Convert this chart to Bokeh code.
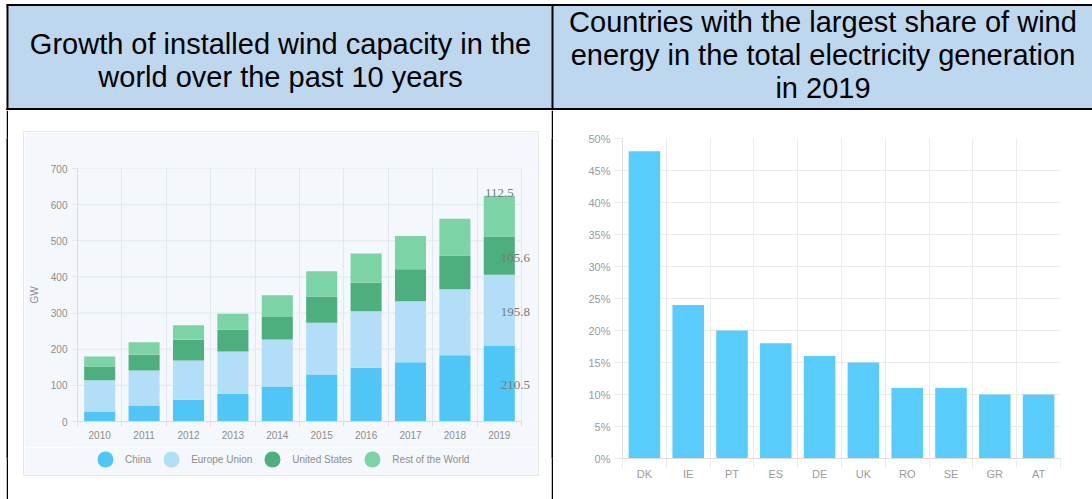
import numpy as np
from bokeh.plotting import figure
from bokeh.models import (Range1d, FixedTicker, LinearAxis, Legend, LegendItem,
                          Spacer, ColumnDataSource, PrintfTickFormatter, Grid)
from bokeh.layouts import row, column
from bokeh.embed import file_html
from bokeh.resources import INLINE
from bokeh.core.properties import value

# ---------------- data ----------------
years = ["2010", "2011", "2012", "2013", "2014", "2015", "2016", "2017", "2018", "2019"]
china = [28, 44, 60, 77, 97, 130, 149, 164, 183, 210.5]
europe = [86, 97, 109, 117, 130, 143, 156, 169, 183, 195.8]
united_states = [38, 44, 57, 60, 62, 73, 79, 88, 93, 105.6]
rest_world = [28, 34, 40, 44, 60, 70, 81, 92, 102, 112.5]
series_names = ["China", "Europe Union", "United States", "Rest of the World"]
gw_ticks = [0, 100, 200, 300, 400, 500, 600, 700]

countries = ["DK", "IE", "PT", "ES", "DE", "UK", "RO", "SE", "GR", "AT"]
wind_share = [48, 24, 20, 18, 16, 15, 11, 11, 10, 10]
share_ticks = [0, 5, 10, 15, 20, 25, 30, 35, 40, 45, 50]

header_left = ["Growth of installed wind capacity in the",
               "world over the past 10 years"]
header_right = ["Countries with the largest share of wind",
                "energy in the total electricity generation",
                "in 2019"]

# ---------------- styles ----------------
SERIES_COLORS = ["#4FC6F6", "#B3DEF7", "#4DAE7E", "#7CD4A6"]
BAR_COLOR = "#58CDFB"
HEADER_BG = "#BDD7EE"
PANEL = "#F4F8FC"
GRID_L = "#E2E8EF"
GRID_R = "#EBEBEB"
LABEL_L = "#8C8C8C"
LABEL_R = "#9A9A9A"
SANS = "Liberation Sans"


def blank(width, height, **kw):
    return figure(width=width, height=height, toolbar_location=None,
                  output_backend="svg", min_border=0, outline_line_color=None,
                  x_axis_type=None, y_axis_type=None, **kw)


# ---------------- header row (table) ----------------
hdr = blank(1092, 110, x_range=Range1d(0, 1092), y_range=Range1d(110, 0))
hdr.quad(left=[8], right=[1092], top=[5], bottom=[108],
         fill_color=HEADER_BG, line_color=None)
hdr.segment(x0=[6, 7, 552, 6], y0=[4.5, 4, 4, 108.5],
            x1=[1092, 7, 552, 1092], y1=[4.5, 110, 110, 108.5],
            line_color="black", line_width=2)
hdr.text(x=[280] * len(header_left), y=[43.5, 76.5], text=header_left,
         text_font=value(SANS), text_font_size="29px", text_color="black",
         text_align="center", text_baseline="alphabetic")
hdr.text(x=[822.5] * len(header_right), y=[21, 54, 87], text=header_right,
         text_font=value(SANS), text_font_size="29px", text_color="black",
         text_align="center", text_baseline="alphabetic")

# ---------------- left chart: stacked bars ----------------
n = len(years)
xs = [i + 0.5 for i in range(n)]
src = ColumnDataSource(dict(x=xs, China=china, Europe=europe,
                            US=united_states, Rest=rest_world))
# frame is widened a little on the right so the value labels are not clipped
x_end = n + 14 / 44.4
lc = figure(width=514, height=315, x_range=Range1d(0, x_end), y_range=Range1d(0, 700),
            toolbar_location=None, output_backend="svg",
            x_axis_type=None, y_axis_type=None,
            min_border_left=53, min_border_right=3, min_border_top=36,
            min_border_bottom=26, background_fill_color=PANEL,
            border_fill_color=PANEL, outline_line_color=None)
lc.vbar_stack(["China", "Europe", "US", "Rest"], x="x", width=0.7,
              color=SERIES_COLORS, line_color=None, source=src)

yax = LinearAxis(ticker=FixedTicker(ticks=gw_ticks), axis_label="GW",
                 axis_label_text_font=SANS, axis_label_text_font_size="10px",
                 axis_label_text_font_style="normal", axis_label_text_color=LABEL_L,
                 axis_label_standoff=8,
                 major_label_text_font=SANS, major_label_text_font_size="10px",
                 major_label_text_color=LABEL_L, major_label_standoff=4,
                 major_tick_out=6, major_tick_in=0, major_tick_line_color=GRID_L,
                 minor_tick_line_color=None, axis_line_color="#D5DCE4")
lc.add_layout(yax, "left")
xax_t = LinearAxis(ticker=FixedTicker(ticks=list(range(n + 1))), bounds=(0, n),
                   major_label_overrides={i: "" for i in range(n + 1)},
                   major_tick_out=5, major_tick_in=0, major_tick_line_color="#EBD9DC",
                   major_label_standoff=0, minor_tick_line_color=None,
                   axis_line_color="#D5DCE4")
lc.add_layout(xax_t, "below")
xax_l = LinearAxis(ticker=FixedTicker(ticks=xs),
                   major_label_overrides={x: y for x, y in zip(xs, years)},
                   major_label_text_font=SANS, major_label_text_font_size="10px",
                   major_label_text_color=LABEL_L, major_label_standoff=-2,
                   major_tick_line_color=None, minor_tick_line_color=None,
                   axis_line_color=None)
lc.add_layout(xax_l, "below")
lc.add_layout(Grid(dimension=0, ticker=FixedTicker(ticks=list(range(n + 1))),
                   grid_line_color=GRID_L))
# horizontal grid lines, limited to the category span
lc.segment(x0=[0] * len(gw_ticks), x1=[n] * len(gw_ticks), y0=gw_ticks, y1=gw_ticks,
           line_color=GRID_L, line_width=1, level="underlay")

# value labels on the last bar
last_vals = [china[-1], europe[-1], united_states[-1], rest_world[-1]]
cum = np.cumsum(last_vals)
mids = cum - np.array(last_vals) / 2
lc.text(x=[xs[-1]] * 3, y=list(mids[:3]), text=[f"{v:.1f}" for v in last_vals[:3]],
        x_offset=16, y_offset=2, text_font=value("Liberation Serif"),
        text_font_size="13px", text_color="#7A7A7A", text_align="center",
        text_baseline="middle")
lc.text(x=[xs[-1]], y=[cum[-1]], text=[f"{last_vals[-1]:.1f}"],
        y_offset=1, text_font=value("Liberation Serif"),
        text_font_size="13px", text_color="#7A7A7A", text_align="center",
        text_baseline="bottom")

# legend strip of the left panel (circle markers; NaN points are never drawn)
leg = blank(514, 28, x_range=Range1d(0, 1), y_range=Range1d(0, 1),
            background_fill_color=PANEL, border_fill_color=PANEL)
dots = [leg.scatter(x=[float("nan")], y=[float("nan")], marker="circle", size=16,
                    color=c, line_color=None)
        for c in SERIES_COLORS]
legend = Legend(items=[LegendItem(label=nm, renderers=[r]) for nm, r in zip(series_names, dots)],
                orientation="horizontal", location=(8, -4),
                glyph_width=40, glyph_height=40, label_standoff=0, spacing=0,
                padding=0, margin=0, border_line_color=None, background_fill_alpha=0,
                label_text_font=SANS, label_text_font_size="10px",
                label_text_color=LABEL_L)
leg.add_layout(legend)

panel = column(lc, leg, spacing=0, styles={"outline": "1px solid #E3E9F0"})

# ---------------- right chart: simple bars ----------------
m = len(countries)
cx = [i + 0.5 for i in range(m)]
rc = figure(width=539, height=389, x_range=Range1d(0, m), y_range=Range1d(0, 50),
            toolbar_location=None, output_backend="svg",
            x_axis_type=None, y_axis_type=None,
            min_border_left=69, min_border_right=32, min_border_top=28,
            min_border_bottom=41, outline_line_color=None)
rc.vbar(x=cx, top=wind_share, width=0.72, color=BAR_COLOR, line_color=None)
ryax = LinearAxis(ticker=FixedTicker(ticks=share_ticks),
                  formatter=PrintfTickFormatter(format="%d%%"),
                  major_label_text_font=SANS, major_label_text_font_size="11px",
                  major_label_text_color=LABEL_R, major_label_standoff=4,
                  major_tick_out=8, major_tick_in=0, major_tick_line_color=GRID_R,
                  minor_tick_line_color=None, axis_line_color="#DDDDDD")
rc.add_layout(ryax, "left")
rxax_t = LinearAxis(ticker=FixedTicker(ticks=list(range(m + 1))),
                    major_label_overrides={i: "" for i in range(m + 1)},
                    major_tick_out=10, major_tick_in=0, major_tick_line_color=GRID_R,
                    major_label_standoff=0, minor_tick_line_color=None,
                    axis_line_color="#DDDDDD")
rc.add_layout(rxax_t, "below")
rxax_l = LinearAxis(ticker=FixedTicker(ticks=cx),
                    major_label_overrides={x: c for x, c in zip(cx, countries)},
                    major_label_text_font=SANS, major_label_text_font_size="11px",
                    major_label_text_color=LABEL_R, major_label_standoff=-7,
                    major_tick_line_color=None, minor_tick_line_color=None,
                    axis_line_color=None)
rc.add_layout(rxax_l, "below")
rc.add_layout(Grid(dimension=0, ticker=FixedTicker(ticks=list(range(m + 1))),
                   grid_line_color=GRID_R))
rc.add_layout(Grid(dimension=1, ticker=FixedTicker(ticks=share_ticks),
                   grid_line_color=GRID_R))

# ---------------- table body lines ----------------
def vline():
    return blank(2, 389, background_fill_color="black", border_fill_color="black")

body = row(
    Spacer(width=6, height=389),
    vline(),
    Spacer(width=16, height=389),
    column(Spacer(width=514, height=22), panel, Spacer(width=514, height=24), spacing=0),
    Spacer(width=13, height=389),
    vline(),
    rc,
    spacing=0,
)
page = column(hdr, body, spacing=0)

open("out.html", "w").write(file_html(page, INLINE))
